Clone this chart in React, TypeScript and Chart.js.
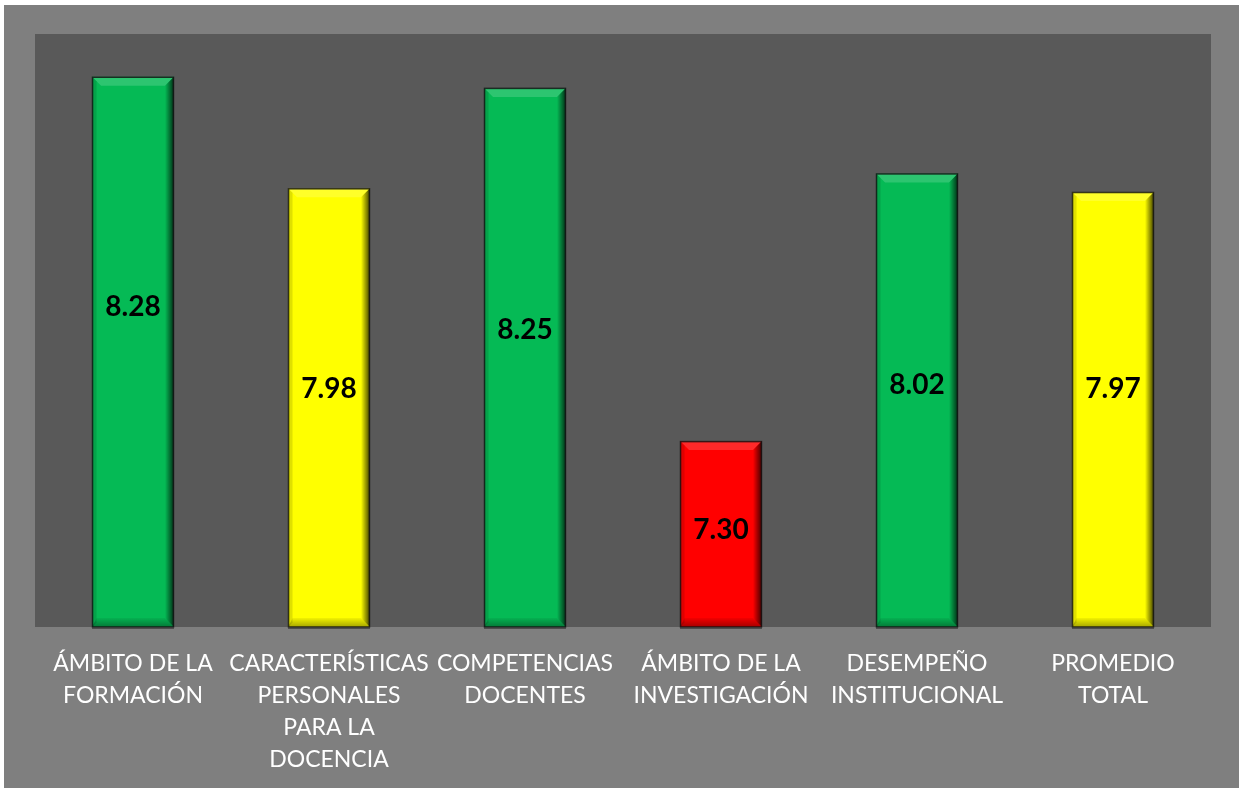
import React, { useEffect, useRef } from "react";
import { Chart, registerables } from "chart.js";

Chart.register(...registerables);

const categories: string[][] = [
  ["ÁMBITO DE LA", "FORMACIÓN"],
  ["CARACTERÍSTICAS", "PERSONALES", "PARA LA", "DOCENCIA"],
  ["COMPETENCIAS", "DOCENTES"],
  ["ÁMBITO DE LA", "INVESTIGACIÓN"],
  ["DESEMPEÑO", "INSTITUCIONAL"],
  ["PROMEDIO", "TOTAL"],
];
const values: number[] = [8.28, 7.98, 8.25, 7.3, 8.02, 7.97];
const barColors: string[] = ["#05ba55", "#ffff00", "#05ba55", "#ff0000", "#05ba55", "#ffff00"];
// value-axis level at which each data label sits (as placed in the original)
const labelLevels: number[] = [7.66, 7.44, 7.6, 7.06, 7.45, 7.44];
const yMin = 6.8;
const yMax = 8.395;

const bevelPlugin = {
  id: "bevel",
  beforeDraw(chart: any) {
    const { ctx, chartArea } = chart;
    ctx.save();
    ctx.fillStyle = "#595959";
    ctx.fillRect(chartArea.left, chartArea.top, chartArea.right - chartArea.left, chartArea.bottom - chartArea.top);
    ctx.restore();
  },
  afterDatasetsDraw(chart: any) {
    const { ctx, chartArea } = chart;
    const meta = chart.getDatasetMeta(0);
    const yScale = chart.scales.y;
    meta.data.forEach((bar: any, i: number) => {
      const w = bar.width;
      const l = bar.x - w / 2;
      const r = bar.x + w / 2;
      const t = bar.y;
      const b = Math.min(bar.base, chartArea.bottom);
      const bv = 9;
      ctx.save();
      // top bevel (light)
      ctx.beginPath();
      ctx.moveTo(l, t);
      ctx.lineTo(r, t);
      ctx.lineTo(r - bv, t + bv);
      ctx.lineTo(l + bv, t + bv);
      ctx.closePath();
      ctx.fillStyle = "rgba(255,255,255,0.16)";
      ctx.fill();
      // left bevel (slight dark)
      ctx.beginPath();
      ctx.moveTo(l, t);
      ctx.lineTo(l + bv * 0.5, t + bv * 0.5);
      ctx.lineTo(l + bv * 0.5, b - bv * 0.5);
      ctx.lineTo(l, b);
      ctx.closePath();
      ctx.fillStyle = "rgba(0,0,0,0.12)";
      ctx.fill();
      // right bevel (dark gradient)
      const g = ctx.createLinearGradient(r - bv, 0, r, 0);
      g.addColorStop(0, "rgba(0,0,0,0)");
      g.addColorStop(1, "rgba(0,0,0,0.75)");
      ctx.beginPath();
      ctx.moveTo(r, t);
      ctx.lineTo(r, b);
      ctx.lineTo(r - bv, b - bv);
      ctx.lineTo(r - bv, t + bv);
      ctx.closePath();
      ctx.fillStyle = g;
      ctx.fill();
      // bottom bevel
      const gb = ctx.createLinearGradient(0, b - bv, 0, b);
      gb.addColorStop(0, "rgba(0,0,0,0.05)");
      gb.addColorStop(1, "rgba(0,0,0,0.35)");
      ctx.beginPath();
      ctx.moveTo(l, b);
      ctx.lineTo(r, b);
      ctx.lineTo(r - bv, b - bv);
      ctx.lineTo(l + bv * 0.5, b - bv);
      ctx.closePath();
      ctx.fillStyle = gb;
      ctx.fill();
      // outline
      ctx.strokeStyle = "rgba(20,20,20,0.85)";
      ctx.lineWidth = 1.5;
      ctx.strokeRect(l + 0.5, t + 0.5, w - 1, b - t - 0.5);
      // shadow line under bar
      ctx.strokeStyle = "#4d4d4d";
      ctx.lineWidth = 1;
      ctx.beginPath();
      ctx.moveTo(l, b + 1.5);
      ctx.lineTo(r, b + 1.5);
      ctx.stroke();
      // data label
      ctx.fillStyle = "#000000";
      ctx.font = "bold 28px Lato, 'Open Sans', sans-serif";
      ctx.textAlign = "center";
      ctx.textBaseline = "middle";
      ctx.fillText(values[i].toFixed(2), bar.x, yScale.getPixelForValue(labelLevels[i]));
      ctx.restore();
    });
  },
};

export default function App() {
  const canvasRef = useRef<HTMLCanvasElement | null>(null);
  useEffect(() => {
    if (!canvasRef.current) return;
    const chart = new Chart(canvasRef.current, {
      type: "bar",
      data: {
        labels: categories,
        datasets: [
          {
            data: values,
            backgroundColor: barColors,
            borderWidth: 0,
            barPercentage: 0.418,
            categoryPercentage: 1,
          },
        ],
      },
      options: {
        responsive: false,
        animation: false,
        layout: { padding: { left: 31, right: 28, top: 29, bottom: 0 } },
        plugins: { legend: { display: false }, tooltip: { enabled: false } },
        scales: {
          y: { display: false, min: yMin, max: yMax },
          x: {
            grid: { display: false, drawTicks: false },
            border: { display: false },
            ticks: {
              color: "#ffffff",
              padding: 21,
              maxRotation: 0,
              autoSkip: false,
              font: { family: "Lato, 'Open Sans', sans-serif", size: 23, lineHeight: "32px" },
            },
            afterFit(scale: any) {
              scale.height = 161;
            },
          },
        },
      },
      plugins: [bevelPlugin],
    });
    return () => chart.destroy();
  }, []);
  return (
    <div
      style={{
        position: "absolute",
        left: 4,
        top: 5,
        width: 1235,
        height: 783,
        background: "#7f7f7f",
      }}
    >
      <canvas ref={canvasRef} width={1235} height={783} style={{ display: "block", width: 1235, height: 783 }} />
    </div>
  );
}
